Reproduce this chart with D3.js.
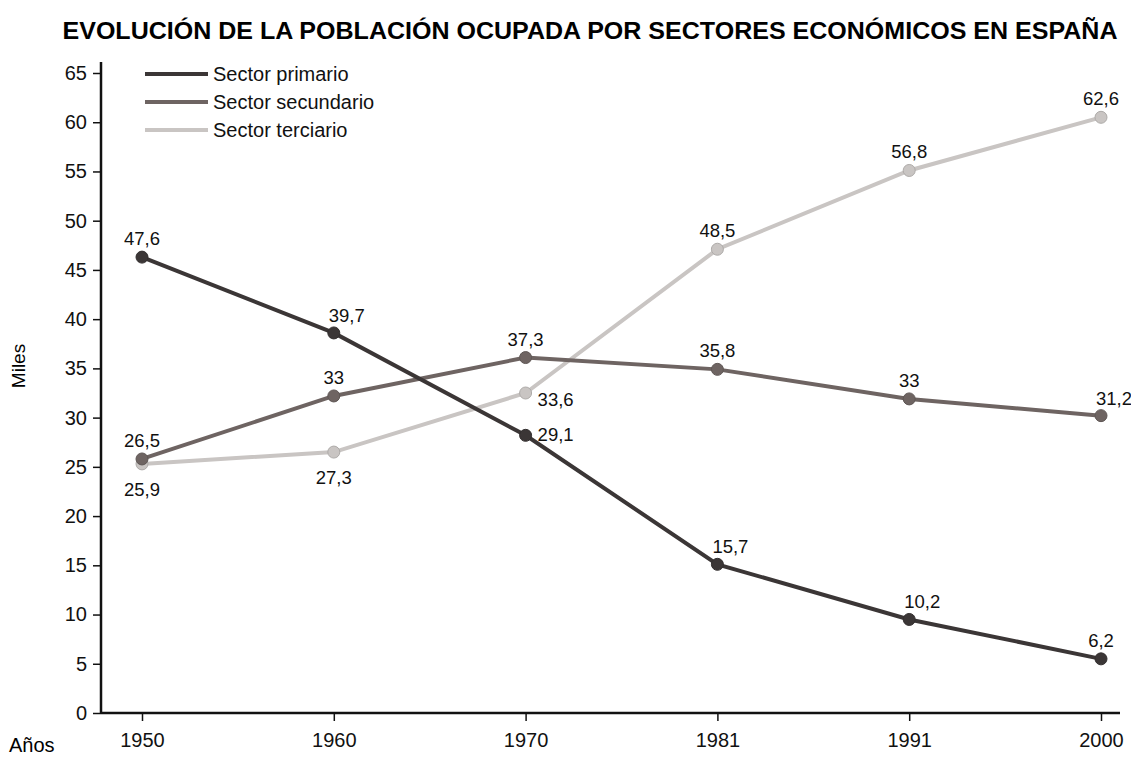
<!DOCTYPE html>
<html>
<head>
<meta charset="utf-8">
<title>Evolución de la población ocupada</title>
<script src="https://d3js.org/d3.v7.min.js"></script>
<style>
body { margin: 0; background: #fff; }
svg { font-family: "Liberation Sans", Arial, sans-serif; }
.axis path, .axis line { stroke: #111; }
.axis text { font-size: 20px; fill: #111; }
</style>
</head>
<body>
<svg id="chart" width="1131" height="758"></svg>
<script>
// data
var years = ["1950", "1960", "1970", "1981", "1991", "2000"];
var yTicks = [0, 5, 10, 15, 20, 25, 30, 35, 40, 45, 50, 55, 60, 65];

// plotted positions (as drawn) and printed labels
var primario   = [46.3, 38.6, 28.2, 15.1, 9.5, 5.5];
var primarioLb = ["47,6", "39,7", "29,1", "15,7", "10,2", "6,2"];
var secundario   = [25.8, 32.2, 36.1, 34.9, 31.9, 30.2];
var secundarioLb = ["26,5", "33", "37,3", "35,8", "33", "31,2"];
var terciario   = [25.3, 26.5, 32.5, 47.1, 55.1, 60.5];
var terciarioLb = ["25,9", "27,3", "33,6", "48,5", "56,8", "62,6"];

var names = ["Sector primario", "Sector secundario", "Sector terciario"];

var series = [
	{name: names[0], values: primario, labels: primarioLb, color: "#3b3636",
	 place: ["up", "upr", "right", "upr", "upr", "up"]},
	{name: names[1], values: secundario, labels: secundarioLb, color: "#6e6462",
	 place: ["up", "up", "up", "up", "up", "upr"]},
	{name: names[2], values: terciario, labels: terciarioLb, color: "#c9c5c3",
	 place: ["down", "down", "rightdown", "up", "up", "up"]}
];

var svg = d3.select("#chart"),
	margin = {top: 73, right: 30, bottom: 45, left: 101};

var x = d3.scalePoint()
	.domain(years)
	.range([142, 1101]);

var y = d3.scaleLinear()
	.domain([0, 65])
	.range([713, 73]);

// title
svg.append("text")
	.attr("x", 590)
	.attr("y", 39)
	.attr("text-anchor", "middle")
	.attr("font-size", 23)
	.attr("font-weight", "bold")
	.attr("textLength", 1055)
	.attr("lengthAdjust", "spacingAndGlyphs")
	.text("EVOLUCIÓN DE LA POBLACIÓN OCUPADA POR SECTORES ECONÓMICOS EN ESPAÑA");

// y axis
var gy = svg.append("g")
	.attr("class", "axis")
	.attr("transform", "translate(" + margin.left + ",0)")
	.call(d3.axisLeft(y).tickValues(yTicks).tickSize(8).tickPadding(6).tickSizeOuter(0));
gy.select(".domain").attr("stroke-width", 2.5).attr("d", "M0,62V713");
gy.selectAll("line").attr("stroke-width", 1.5);

// x axis
var gx = svg.append("g")
	.attr("class", "axis")
	.attr("transform", "translate(0,713)")
	.call(d3.axisBottom(x).tickSize(8).tickPadding(12).tickSizeOuter(0));
gx.select(".domain").attr("stroke-width", 2.5).attr("d", "M" + margin.left + ",0H1120");
gx.selectAll("line").attr("stroke-width", 1.5);

svg.append("text")
	.attr("x", 9)
	.attr("y", 752)
	.attr("font-size", 20)
	.text("Años");

svg.append("text")
	.attr("transform", "translate(25,366) rotate(-90)")
	.attr("text-anchor", "middle")
	.attr("font-size", 19)
	.text("Miles");

var line = d3.line()
	.x((d, i) => x(years[i]))
	.y(d => y(d));

// draw terciario first so darker lines sit on top
var order = series.slice().reverse();

order.forEach(function(s) {
	svg.append("path")
		.attr("fill", "none")
		.attr("stroke", s.color)
		.attr("stroke-width", 4)
		.attr("d", line(s.values));

	svg.selectAll(null)
		.data(s.values)
		.enter().append("circle")
		.attr("cx", (d, i) => x(years[i]))
		.attr("cy", d => y(d))
		.attr("r", 6)
		.attr("fill", s.color)
		.attr("stroke", d3.color(s.color).darker(0.4))
		.attr("stroke-width", 1);
});

var offs = {
	up: [0, -12, "middle"],
	upr: [13, -11, "middle"],
	right: [12, 6, "start"],
	rightdown: [12, 13, "start"],
	down: [0, 32, "middle"]
};

series.forEach(function(s) {
	svg.selectAll(null)
		.data(s.values)
		.enter().append("text")
		.attr("x", (d, i) => x(years[i]) + offs[s.place[i]][0])
		.attr("y", (d, i) => y(d) + offs[s.place[i]][1])
		.attr("text-anchor", (d, i) => offs[s.place[i]][2])
		.attr("font-size", 18.5)
		.attr("fill", "#111")
		.text((d, i) => s.labels[i]);
});

// legend
var legend = svg.append("g").attr("transform", "translate(145,74)");
series.forEach(function(s, i) {
	var g = legend.append("g").attr("transform", "translate(0," + i * 28 + ")");
	g.append("line")
		.attr("x1", 0).attr("x2", 63)
		.attr("stroke", s.color)
		.attr("stroke-width", 4);
	g.append("text")
		.attr("x", 68)
		.attr("y", 7)
		.attr("font-size", 20)
		.attr("fill", "#111")
		.text(s.name);
});
</script>
</body>
</html>
